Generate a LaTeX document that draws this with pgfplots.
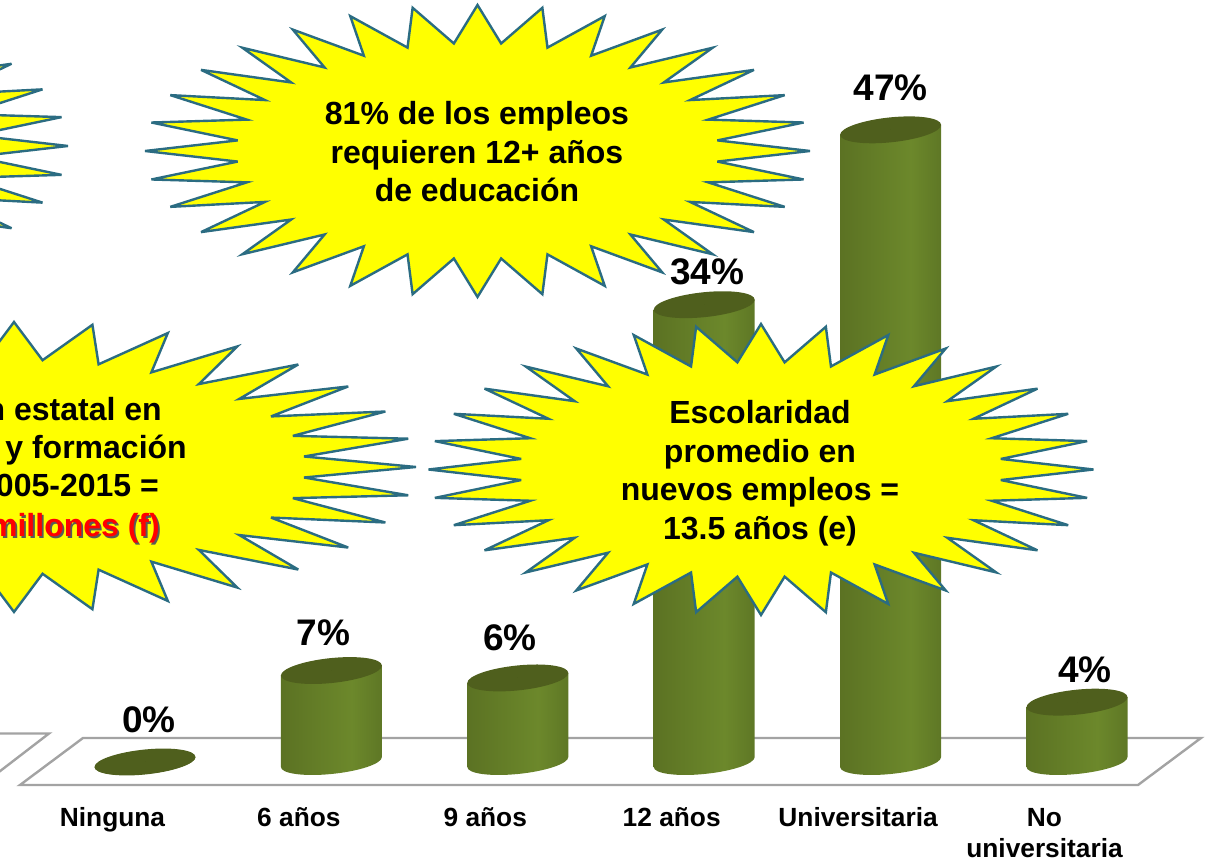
\documentclass[border=0pt]{standalone}
\usepackage{fontspec}
\setmainfont{Liberation Sans}
\usepackage{pgfplots}
\pgfplotsset{compat=1.18}
\definecolor{ca}{HTML}{35440F}
\definecolor{cb}{HTML}{485A1A}
\definecolor{cc}{HTML}{596F22}
\definecolor{cd}{HTML}{6C882B}
\definecolor{ce}{HTML}{566D22}
\definecolor{cf}{HTML}{415316}
\definecolor{topc}{HTML}{4F5F1D}
\definecolor{starline}{HTML}{2B6C82}
\definecolor{starfill}{HTML}{FFFF00}
\definecolor{floorc}{HTML}{A3A3A3}
\pgfdeclarehorizontalshading{cyl}{100bp}{color(0bp)=(ca);color(6bp)=(cb);color(20bp)=(cc);color(60bp)=(cd);color(84bp)=(ce);color(94bp)=(cf);color(100bp)=(ca)}
\newcommand\burst[4]{%
  \draw[starline,line width=2.4pt,fill=starfill,line join=miter,miter limit=6]
    plot[samples at={0,...,63},variable=\k]
    ({#1+#3*ifthenelse(mod(\k,2)==0,1,0.725)*sin(\k*5.625)},
     {#2+#4*ifthenelse(mod(\k,2)==0,1,0.74)*cos(\k*5.625)}) -- cycle;}
\newcommand\tl[3]{\node[anchor=base,inner sep=0pt,font=\fontsize{32}{36}\selectfont\bfseries] at (#1,860-#2) {#3};}
\newcommand\tr[3]{\node[anchor=base east,inner sep=0pt,font=\fontsize{32}{36}\selectfont\bfseries] at (#1,860-#2) {#3};}
\begin{document}
\begin{tikzpicture}[x=1pt,y=1pt]
\path[use as bounding box,clip] (0,0) rectangle (1211,860);
% floor
\draw[floorc,line width=2.4pt,line join=miter] (83,122) -- (20,75) -- (1138,75) -- (1201,122) -- cycle;
\draw[floorc,line width=2.4pt,line join=miter] (-5,126.5) -- (49,126.5) -- (-5,85);
\begin{axis}[
  at={(0,0)},anchor=south west,scale only axis,width=1211pt,height=860pt,
  xmin=-0.7779,xmax=5.7189,ymin=-7.2862,ymax=56.654,
  axis line style={draw=none},tick style={draw=none},ytick=\empty,
  xtick={0,1,2,3,4,5},
  xticklabels={Ninguna,6 años,9 años,12 años,Universitaria,{\parbox[t]{170pt}{\centering No\\universitaria}}},
  xticklabel style={font=\fontsize{26.3}{31}\selectfont\bfseries,anchor=base,xshift=-32.5pt,yshift=34pt},
  clip=false]
\addplot[scatter,only marks,mark=*,mark size=0pt,
  visualization depends on={value \thisrow{v} \as \h},
  scatter/@pre marker code/.code={%
    \begingroup\pgfkeys{/pgf/fpu=true,/pgf/fpu/output format=fixed}\pgfmathparse{13.45*\h}\xdef\H{\pgfmathresult}\endgroup
    \pgfscope\pgftransformcm{1}{0.098}{0}{1}{\pgfpointorigin}%
    \path[draw=none,shade,shading=cyl] (-50.5pt,0pt) -- (-50.5pt,-\H pt) arc[start angle=180,end angle=360,x radius=50.5pt,y radius=12pt] -- (50.5pt,0pt) -- cycle;
    \path[draw=none,fill=topc] (0pt,0pt) ellipse[x radius=50.5pt,y radius=12.5pt];
    \endpgfscope},
  scatter/@post marker code/.code={}]
  table[x=x,y=v]{
x v
0 0
1 6.8
2 6.25
3 34
4 47
5 4.45
};
\addplot[draw=none,mark=none,
  point meta=explicit,
  visualization depends on={value \thisrow{dx} \as \dx},
  visualization depends on={value \thisrow{dy} \as \dy},
  nodes near coords={\pgfmathprintnumber[precision=0,assume math mode=true]{\pgfplotspointmeta}\%},
  every node near coord/.style={anchor=base,inner sep=0pt,xshift=\dx pt,yshift=\dy pt,text=black,font=\fontsize{37}{40}\selectfont\bfseries}]
  table[x=x,y=v,meta=lab]{
x v lab dx dy
0 0 0 4 29
1 6.8 7 -8 25.5
2 6.25 6 -8 27
3 34 34 3 20
4 47 47 0 29
5 4.45 4 8 20
};
\end{axis}
\burst{-267}{714}{335}{148}
\burst{477.5}{709}{332.5}{146}
\burst{14}{393}{402}{145}
\burst{761}{390.5}{332.5}{145.5}
\tl{477}{125}{81\% de los empleos}
\tl{477}{163.5}{requieren 12+ años}
\tl{477}{202}{de educación}
\tl{760}{424}{Escolaridad}
\tl{760}{463}{promedio en}
\tl{760}{501}{nuevos empleos =}
\tl{760}{540}{13.5 años (e)}
\tr{162}{421}{n estatal en}
\tr{187}{459}{y formación}
\tr{159}{497}{005-2015 =}
\begin{scope}[xshift=1.8pt,yshift=-1.8pt]
\node[anchor=base east,inner sep=0pt,text=gray!70!black,font=\fontsize{32}{36}\selectfont\bfseries] at (160,323) {millones (f)};
\end{scope}
\node[anchor=base east,inner sep=0pt,text=red,font=\fontsize{32}{36}\selectfont\bfseries] at (160,323) {millones (f)};
\end{tikzpicture}
\end{document}
